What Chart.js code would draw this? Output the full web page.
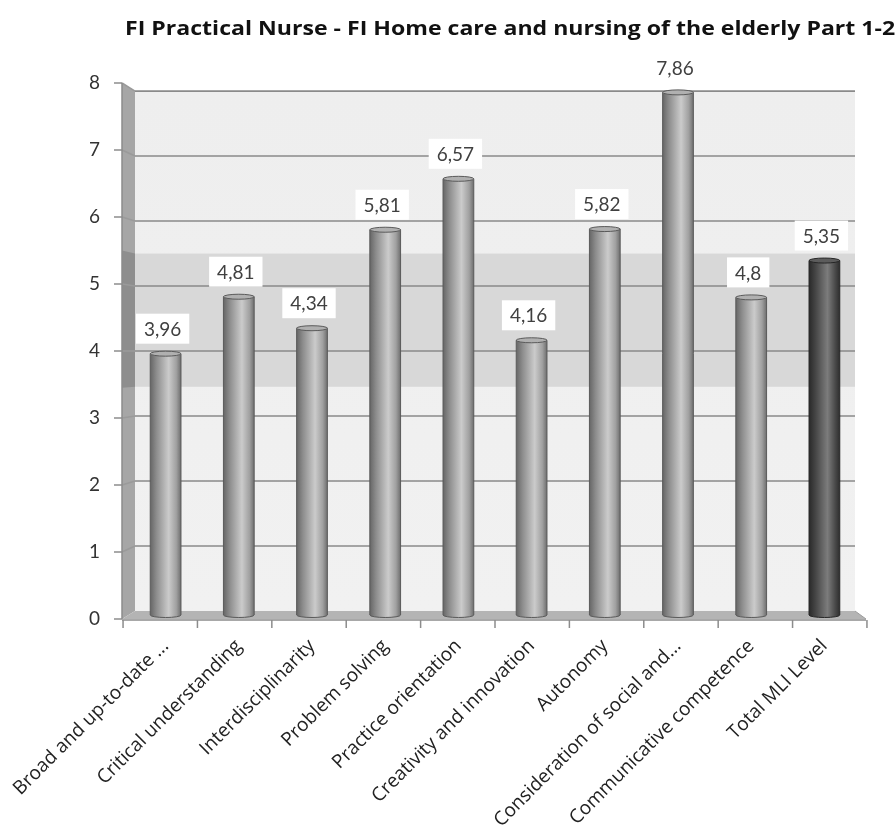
<!DOCTYPE html>
<html>
<head>
<meta charset="utf-8">
<script src="https://cdn.jsdelivr.net/npm/chart.js@4.4.0/dist/chart.umd.min.js"></script>
<style>
  html, body { margin: 0; padding: 0; background: #ffffff; }
  #wrap { width: 895px; height: 834px; }
</style>
</head>
<body>
<div id="wrap"><canvas id="mli" width="895" height="834"></canvas></div>
<script>
// ---- chart data ----
const chartTitle = 'FI Practical Nurse - FI Home care and nursing of the elderly Part 1-2';
const categories = [
  'Broad and up-to-date ...',
  'Critical understanding',
  'Interdisciplinarity',
  'Problem solving',
  'Practice orientation',
  'Creativity and innovation',
  'Autonomy',
  'Consideration of social and...',
  'Communicative competence',
  'Total MLI Level'
];
const scores = [3.96, 4.81, 4.34, 5.81, 6.57, 4.16, 5.82, 7.86, 4.8, 5.35];
const yTicks = [0, 1, 2, 3, 4, 5, 6, 7, 8];
const bandRange = [3.45, 5.5];   // shaded reference band on the back wall
const totalIndex = categories.length - 1;

// ---- 3D frame geometry (front edge vs back wall) ----
const DEPTH = { sideLeft: 7, sideRight: 5, backInset: 6, backDrop: 8, yShrink: 0.97, barShrink: 0.984 };
const FONT = 'Lato, "Open Sans", "DejaVu Sans", sans-serif';
const LABEL_FONT = '"Open Sans", Lato, "DejaVu Sans", sans-serif';

function formatValue(v) { return String(v).replace('.', ','); }

function frame(chart) {
  const ca = chart.chartArea;
  const ys = chart.scales.y;
  const py = v => ys.getPixelForValue(v);
  const yb = v => (ca.bottom - DEPTH.backDrop) - (ca.bottom - py(v)) * DEPTH.yShrink;
  return {
    ca, py, yb,
    xf0: ca.left - DEPTH.sideLeft,
    xf1: ca.right + DEPTH.sideRight,
    xb0: ca.left + DEPTH.backInset,
    xb1: ca.right - DEPTH.backInset
  };
}

function poly(ctx, pts, fill) {
  ctx.beginPath();
  ctx.moveTo(pts[0][0], pts[0][1]);
  for (let i = 1; i < pts.length; i++) ctx.lineTo(pts[i][0], pts[i][1]);
  ctx.closePath();
  ctx.fillStyle = fill;
  ctx.fill();
}

// Walls, floor, band, gridlines and tick marks
const wallsPlugin = {
  id: 'walls',
  beforeDatasetsDraw(chart) {
    const ctx = chart.ctx;
    const f = frame(chart);
    const top = yTicks[yTicks.length - 1], bot = yTicks[0];
    ctx.save();

    // back wall
    const g = ctx.createLinearGradient(0, f.yb(top), 0, f.yb(bot));
    g.addColorStop(0, '#eeeeee');
    g.addColorStop(1, '#f1f1f1');
    ctx.fillStyle = g;
    ctx.fillRect(f.xb0, f.yb(top), f.xb1 - f.xb0, f.yb(bot) - f.yb(top));

    // shaded band on back wall
    ctx.fillStyle = '#d8d8d8';
    ctx.fillRect(f.xb0, f.yb(bandRange[1]), f.xb1 - f.xb0, f.yb(bandRange[0]) - f.yb(bandRange[1]));

    // side wall
    poly(ctx, [[f.xf0, f.py(top)], [f.xb0, f.yb(top)], [f.xb0, f.yb(bot)], [f.xf0, f.py(bot)]], '#a6a6a6');
    poly(ctx, [[f.xf0, f.py(bandRange[1])], [f.xb0, f.yb(bandRange[1])], [f.xb0, f.yb(bandRange[0])], [f.xf0, f.py(bandRange[0])]], '#8e8e8e');

    // gridlines on back wall and side wall
    ctx.lineWidth = 1.6;
    yTicks.forEach(v => {
      if (v === bot) return;
      ctx.strokeStyle = '#8a8a8a';
      ctx.beginPath();
      ctx.moveTo(f.xb0, f.yb(v));
      ctx.lineTo(f.xb1, f.yb(v));
      ctx.stroke();
      ctx.strokeStyle = '#9a9a9a';
      ctx.beginPath();
      ctx.moveTo(f.xf0, f.py(v));
      ctx.lineTo(f.xb0, f.yb(v));
      ctx.stroke();
    });

    // floor
    poly(ctx, [[f.xf0, f.py(bot)], [f.xb0, f.yb(bot)], [f.xb1, f.yb(bot)], [f.xf1, f.py(bot)]], '#b4b4b4');
    ctx.strokeStyle = '#9c9c9c';
    ctx.lineWidth = 1;
    ctx.beginPath();
    ctx.moveTo(f.xb1, f.yb(bot));
    ctx.lineTo(f.xf1, f.py(bot));
    ctx.stroke();

    // axis lines and tick marks
    ctx.strokeStyle = '#8c8c8c';
    ctx.lineWidth = 1.5;
    ctx.beginPath();
    ctx.moveTo(f.xf0, f.py(top));
    ctx.lineTo(f.xf0, f.py(bot));
    ctx.moveTo(f.xf0, f.py(bot) + 1);
    ctx.lineTo(f.xf1, f.py(bot) + 1);
    ctx.stroke();
    yTicks.forEach(v => {
      ctx.beginPath();
      ctx.moveTo(f.xf0 - 8, f.py(v));
      ctx.lineTo(f.xf0, f.py(v));
      ctx.stroke();
    });
    const xs = chart.scales.x;
    const mid = (f.ca.left + f.ca.right) / 2;
    for (let i = 0; i <= categories.length; i++) {
      const bx = xs.getPixelForValue(i - 0.5);
      const fx = mid + (bx - mid) / DEPTH.barShrink;
      ctx.beginPath();
      ctx.moveTo(fx, f.py(bot) + 1);
      ctx.lineTo(fx, f.py(bot) + 9);
      ctx.stroke();
    }
    ctx.restore();
  }
};

// Cylindrical bars with value boxes
const cylinderPlugin = {
  id: 'cylinders',
  afterDatasetsDraw(chart) {
    const ctx = chart.ctx;
    const meta = chart.getDatasetMeta(0);
    ctx.save();
    meta.data.forEach((el, i) => {
      const p = el.getProps(['x', 'y', 'base', 'width'], true);
      const w = p.width, x0 = p.x - w / 2, x1 = p.x + w / 2;
      const yTop = p.y, yBot = p.base - 4;
      const ry = 2.5;
      const dark = i === totalIndex;
      const g = ctx.createLinearGradient(x0, 0, x1, 0);
      if (dark) {
        g.addColorStop(0, '#2a2a2a');
        g.addColorStop(0.2, '#444444');
        g.addColorStop(0.6, '#7c7c7c');
        g.addColorStop(0.85, '#4a4a4a');
        g.addColorStop(1, '#2e2e2e');
      } else {
        g.addColorStop(0, '#666666');
        g.addColorStop(0.2, '#8c8c8c');
        g.addColorStop(0.6, '#cbcbcb');
        g.addColorStop(0.85, '#a0a0a0');
        g.addColorStop(1, '#6e6e6e');
      }
      // body
      ctx.beginPath();
      ctx.moveTo(x0, yTop);
      ctx.lineTo(x0, yBot);
      ctx.ellipse(p.x, yBot, w / 2, ry, 0, Math.PI, 0, true);
      ctx.lineTo(x1, yTop);
      ctx.closePath();
      ctx.fillStyle = g;
      ctx.fill();
      ctx.strokeStyle = dark ? '#262626' : '#5a5a5a';
      ctx.lineWidth = 1;
      ctx.stroke();
      // top cap
      ctx.beginPath();
      ctx.ellipse(p.x, yTop, w / 2, ry, 0, 0, Math.PI * 2);
      ctx.fillStyle = dark ? '#5c5c5c' : '#b0b0b0';
      ctx.fill();
      ctx.stroke();

      // value label in a white box
      const txt = formatValue(scores[i]);
      ctx.font = '19px ' + FONT;
      const tw = ctx.measureText(txt).width;
      const bw = tw + 16, bh = 30;
      const by = yTop - 10 - bh;
      const bxc = p.x - 3;
      ctx.fillStyle = '#ffffff';
      ctx.fillRect(bxc - bw / 2, by, bw, bh);
      ctx.fillStyle = '#404040';
      ctx.textAlign = 'center';
      ctx.textBaseline = 'middle';
      ctx.fillText(txt, bxc, by + bh / 2 + 1);
    });
    ctx.restore();
  }
};

// Chart heading (wide bold face, runs to the right edge)
const headingPlugin = {
  id: 'heading',
  afterDraw(chart) {
    const ctx = chart.ctx;
    ctx.save();
    ctx.font = 'bold 19px ' + LABEL_FONT;
    ctx.fillStyle = '#111111';
    ctx.textAlign = 'left';
    ctx.textBaseline = 'middle';
    ctx.translate(125, 30);
    ctx.scale(1.215, 1);
    ctx.fillText(chartTitle, 0, 0);
    ctx.restore();
  }
};

new Chart(document.getElementById('mli'), {
  type: 'bar',
  data: {
    labels: categories,
    datasets: [{
      data: scores,
      backgroundColor: 'rgba(0,0,0,0)',
      borderWidth: 0,
      barPercentage: 0.42,
      categoryPercentage: 1
    }]
  },
  options: {
    responsive: false,
    animation: false,
    devicePixelRatio: 1,
    layout: { padding: { top: 83, right: 34, bottom: 0, left: 0 } },
    plugins: {
      legend: { display: false },
      tooltip: { enabled: false },
      title: { display: false }
    },
    scales: {
      x: {
        grid: { display: false },
        border: { display: false },
        ticks: {
          autoSkip: false,
          maxRotation: 45,
          minRotation: 45,
          padding: 8,
          labelOffset: 0,
          color: '#222222',
          font: { family: LABEL_FONT, size: 19 }
        },
        afterFit(scale) {
          scale.height = 215;
          scale.paddingLeft = 0;
          scale.paddingRight = 0;
        }
      },
      y: {
        min: yTicks[0],
        max: yTicks[yTicks.length - 1],
        grid: { display: false, drawTicks: false },
        border: { display: false },
        ticks: {
          stepSize: 1,
          padding: 29,
          color: '#333333',
          font: { family: FONT, size: 19 },
          callback: v => (yTicks.includes(v) ? String(v) : '')
        },
        afterFit(scale) {
          scale.width = 129;
        }
      }
    }
  },
  plugins: [wallsPlugin, cylinderPlugin, headingPlugin]
});
</script>
</body>
</html>
